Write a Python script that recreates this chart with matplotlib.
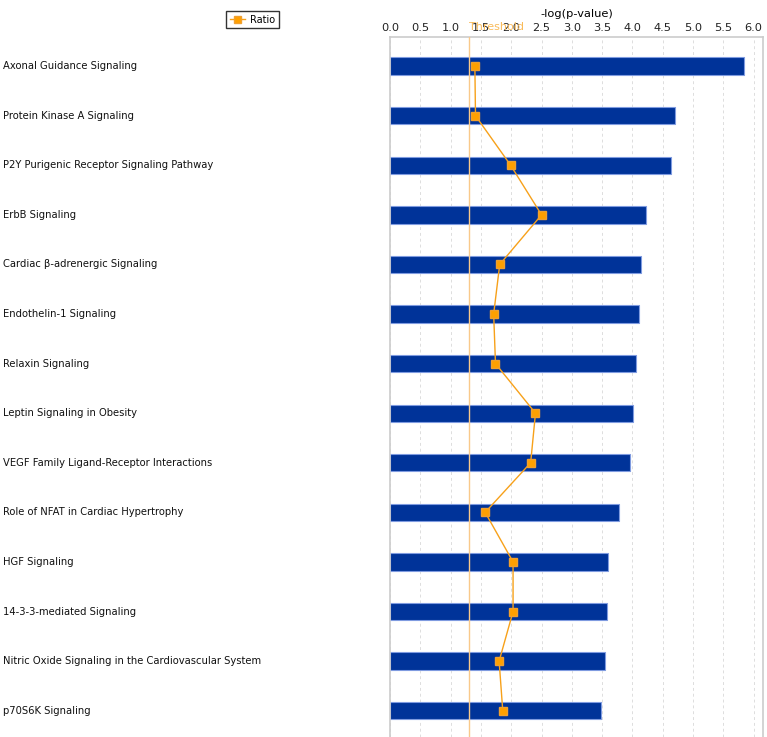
import matplotlib
matplotlib.use("Agg")
import matplotlib.pyplot as plt
import numpy as np

# Vías y valores
pathways = [
    "Axonal Guidance Signaling",
    "Protein Kinase A Signaling",
    "P2Y Purigenic Receptor Signaling Pathway",
    "ErbB Signaling",
    "Cardiac β-adrenergic Signaling",
    "Endothelin-1 Signaling",
    "Relaxin Signaling",
    "Leptin Signaling in Obesity",
    "VEGF Family Ligand-Receptor Interactions",
    "Role of NFAT in Cardiac Hypertrophy",
    "HGF Signaling",
    "14-3-3-mediated Signaling",
    "Nitric Oxide Signaling in the Cardiovascular System",
    "p70S6K Signaling",
]
neg_log_p = [5.84, 4.70, 4.63, 4.23, 4.14, 4.10, 4.06, 4.01, 3.96, 3.77, 3.59, 3.58, 3.55, 3.48]
ratio = [1.40, 1.41, 1.99, 2.50, 1.81, 1.71, 1.74, 2.40, 2.32, 1.57, 2.03, 2.03, 1.80, 1.86]
threshold = 1.30
ticks = np.arange(0, 6.01, 0.5)

azul = "#003399"
naranja = "#f7a11a"

fig = plt.figure(figsize=(7.67, 7.37), dpi=100)
ax = fig.add_axes([0.5085, 0.0, 0.486, 0.95])

y = np.arange(len(pathways))

# barras
ax.barh(y, neg_log_p, height=0.35, color=azul, edgecolor="#7f9be0", linewidth=0.8, zorder=2)

# línea de umbral
ax.axvline(threshold, color="#f9c98a", linewidth=1.0, zorder=3)
ax.text(threshold, -0.78, "Threshold", color="#f9bb5a", fontsize=8, ha="left", va="center", zorder=5)

# línea de ratio
linea, = ax.plot(ratio, y, color=naranja, linewidth=1.0, marker="s", markersize=5.6,
                 markerfacecolor="#ffa000", markeredgecolor="#f0a030", zorder=4, label="Ratio")

ax.set_xlim(0, 6.15)
ax.set_ylim(13.53, -0.59)

# ejes
ax.xaxis.tick_top()
ax.xaxis.set_label_position("top")
ax.set_xticks(ticks)
ax.set_xticklabels([f"{t:.1f}" for t in ticks])
ax.tick_params(axis="x", length=0, pad=3, labelsize=8.2, colors="#222222")
ax.set_xlabel("-log(p-value)", fontsize=8.2, labelpad=4)
ax.set_yticks([])
ax.grid(axis="x", color="#dddddd", linestyle=(0, (3, 3)), linewidth=0.7, zorder=0)
for lado in ["top", "left", "right"]:
    ax.spines[lado].set_color("#cccccc")
    ax.spines[lado].set_linewidth(1.2)
ax.spines["bottom"].set_visible(False)

# etiquetas de categorías a la izquierda
for i, nombre in enumerate(pathways):
    ax.annotate(nombre, xy=(3 / 767, i), xycoords=("figure fraction", "data"),
                fontsize=7.2, ha="left", va="center", color="#111111")

# leyenda
ley = fig.legend(handles=[linea], loc="center", bbox_to_anchor=(0.329, 0.973), fontsize=7,
                 frameon=True, fancybox=False, edgecolor="black", handlelength=1.6,
                 borderpad=0.35, handletextpad=0.5, markerscale=0.9)
ley.get_frame().set_linewidth(1.0)

plt.savefig("out.png", dpi=100)
